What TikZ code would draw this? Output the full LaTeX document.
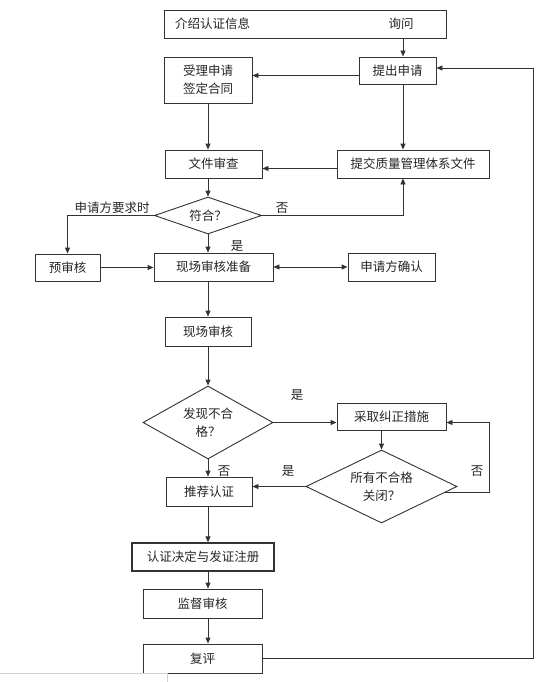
\documentclass[tikz,border=0pt]{standalone}
\usepackage{fontspec}
\setmainfont{Noto Sans CJK SC}
\usetikzlibrary{arrows.meta,shapes.geometric,calc}
\begin{document}
\begin{tikzpicture}[x=1pt,y=-1pt,
  every node/.style={font=\fontsize{12.5}{18}\selectfont, text=black!85},
  box/.style={draw=black!80, line width=0.9pt, rectangle, inner sep=0pt, align=center},
  dia/.style={draw=black!80, line width=0.9pt, diamond, inner sep=0pt, align=center},
  arr/.style={draw=black!80, line width=0.9pt, -{Triangle[length=6pt,width=5pt]}},
  arrboth/.style={draw=black!80, line width=0.9pt, {Triangle[length=6pt,width=5pt]}-{Triangle[length=6pt,width=5pt]}},
  lab/.style={inner sep=0pt}
]
\useasboundingbox (0,0) rectangle (556,682);
\fill[white] (0,0) rectangle (556,682);

% helper coordinates
\coordinate (xr) at (403,0);
\coordinate (xm) at (208,0);
\coordinate (xl) at (489,0);
\coordinate (xf) at (533,0);
\coordinate (y75) at (0,75.5);
\coordinate (y169) at (0,168.5);
\coordinate (y68) at (0,68);

% nodes
\node[box, minimum width=282pt, minimum height=28pt] (top) at (305,24) {};
\node[lab, anchor=west] (tinfo) at (175,24) {介绍认证信息};
\node[lab] (task) at (401,24) {询问};
\node[box, minimum width=77pt, minimum height=27pt] (apply) at (397.5,70.5) {提出申请};
\node[box, minimum width=88pt, minimum height=46pt] (accept) at (208,80) {受理申请\\签定合同};
\node[box, minimum width=97pt, minimum height=28pt] (doc) at (213.5,164) {文件审查};
\node[box, minimum width=152pt, minimum height=28pt] (submit) at (413,164) {提交质量管理体系文件};
\node[dia, minimum width=107pt, minimum height=37pt, shape aspect=2.9] (d1) at (208,215.5) {符合？};
\node[box, minimum width=65pt, minimum height=27pt] (pre) at (67.5,267.5) {预审核};
\node[box, minimum width=119pt, minimum height=28pt] (prep) at (213.5,267) {现场审核准备};
\node[box, minimum width=87pt, minimum height=28pt] (confirm) at (391.5,267) {申请方确认};
\node[box, minimum width=86pt, minimum height=29pt] (audit) at (208,331.5) {现场审核};
\node[dia, minimum width=130pt, minimum height=73pt, shape aspect=1.78] (d2) at (208,422.5) {发现不合\\格？};
\node[box, minimum width=109pt, minimum height=27pt] (correct) at (391.5,416.5) {采取纠正措施};
\node[dia, minimum width=151pt, minimum height=73pt, shape aspect=2.07] (d3) at (381.5,486.5) {所有不合格\\关闭？};
\node[box, minimum width=86pt, minimum height=29pt] (rec) at (209,491.5) {推荐认证};
\node[box, line width=1.4pt, minimum width=142pt, minimum height=28pt] (decide) at (203,557) {认证决定与发证注册};
\node[box, minimum width=119pt, minimum height=29pt] (super) at (202.5,603.5) {监督审核};
\node[box, minimum width=119pt, minimum height=29pt] (review) at (202.5,658.5) {复评};

% labels
\node[lab] (l1) at (112,208) {申请方要求时};
\node[lab] (l2) at (282,208) {否};
\node[lab] (l3) at (237,246) {是};
\node[lab] (l4) at (297,395) {是};
\node[lab] (l5) at (224,471) {否};
\node[lab] (l6) at (288,471) {是};
\node[lab] (l7) at (477,471) {否};

% connectors
\draw[arr] (top.south -| xr) -- (apply.north -| xr);
\draw[arr] (apply.west |- y75) -- (accept.east |- y75);
\draw[arr] (accept.south) -- (doc.north -| accept.south);
\draw[arr] (apply.south -| xr) -- (submit.north -| xr);
\draw[arr] (submit.west |- y169) -- (doc.east |- y169);
\draw[arr] (doc.south -| d1.north) -- (d1.north);
\draw[arr] (d1.east) -| (submit.south -| xr);
\draw[arr] (d1.west) -| (pre.north);
\draw[arr] (d1.south) -- (prep.north -| d1.south);
\draw[arr] (pre.east) -- (prep.west |- pre.east);
\draw[arrboth] (prep.east) -- (confirm.west |- prep.east);
\draw[arr] (prep.south -| xm) -- (audit.north -| xm);
\draw[arr] (audit.south) -- (d2.north -| audit.south);
\draw[arr] (d2.east) -- (correct.west |- d2.east);
\draw[arr] (correct.south -| d3.north) -- (d3.north);
\draw[arr] (d3.west) -- (rec.east |- d3.west);
\draw[arr] (d2.south) -- (rec.north -| d2.south);
\coordinate (ls) at ($(d3.east)!0.16!(d3.south)$);
\draw[arr] (ls) -- (ls -| xl) -- (xl |- d2.east) -- (correct.east |- d2.east);
\draw[arr] (rec.south -| xm) -- (decide.north -| xm);
\draw[arr] (decide.south -| xm) -- (super.north -| xm);
\draw[arr] (super.south -| xm) -- (review.north -| xm);
\draw[arr] (review.east) -- (review.east -| xf) -- (xf |- y68) -- (apply.east |- y68);

% faint border artefact at the bottom left
\draw[black!18, line width=0.8pt] (0,673) -- (167,673) -- (167,682);
\end{tikzpicture}
\end{document}
